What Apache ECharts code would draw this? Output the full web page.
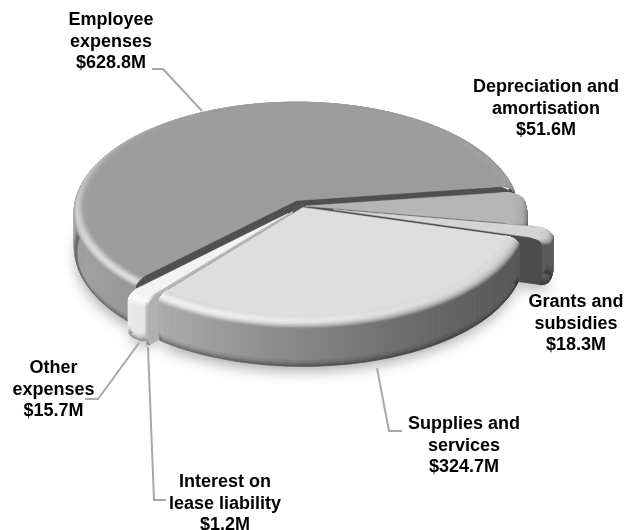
<!DOCTYPE html>
<html>
<head>
<meta charset="utf-8">
<style>html,body{margin:0;padding:0;background:#fff}#chart{width:629px;height:530px}</style>
<script src="https://cdn.jsdelivr.net/npm/echarts@6/dist/echarts.min.js"></script>
</head>
<body>
<div id="chart"></div>
<script>
// Expense breakdown, clockwise from the first slice ($ million)
const categories = ['Employee expenses', 'Depreciation and amortisation', 'Grants and subsidies',
  'Supplies and services', 'Interest on lease liability', 'Other expenses'];
const values = [628.8, 51.6, 18.3, 324.7, 1.2, 15.7];
const valueLabels = ['$628.8M', '$51.6M', '$18.3M', '$324.7M', '$1.2M', '$15.7M'];
const labelLines = [['Employee', 'expenses'], ['Depreciation and', 'amortisation'], ['Grants and', 'subsidies'],
  ['Supplies and', 'services'], ['Interest on', 'lease liability'], ['Other', 'expenses']];

// Projection of the tilted disc
const CX = 302, CY = 206, R = 222, TILT = 0.486, PERSP = 0.06, HEIGHT = 46;
const BEVEL = 0.055, BEVEL_DROP = 6, START_ANGLE = 134.4;

// Greys: top face, outer wall, cut wall; explode distance; corner rounding; rim gloss
const sliceLook = [
  { top: 156, wall: 190, cut: 80, explode: 12.5, round: 2, gloss: 0.7 },
  { top: 182, wall: 215, cut: 80, explode: 3, round: 11, gloss: 0.9 },
  { top: 212, wall: 235, cut: 76, explode: 32, round: 8, gloss: 0.9 },
  { top: 222, wall: 226, cut: 90, explode: 3, round: 3, gloss: 0.95 },
  { top: 190, wall: 245, cut: 176, explode: 15, round: 0, gloss: 0.9 },
  { top: 243, wall: 300, cut: 178, explode: 21, round: 6, gloss: 0.9, depth: 42 }
];
const paintOrder = [0, 1, 2, 5, 4, 3];

// Callouts: text anchor and leader path for each slice
const LINE_STEP = 21.7;
const calloutLayout = [
  { x: 111, y: 20, line: [[152, 69], [163, 69], [202, 111]] },
  { x: 546, y: 87, line: null },
  { x: 576, y: 302, line: null },
  { x: 464, y: 424, line: [[377, 368], [389, 431], [402, 431]] },
  { x: 225, y: 482, line: [[148, 347], [154, 500], [166, 500]] },
  { x: 53.5, y: 368, line: [[139, 343], [98, 399], [85, 399]] }
];

const total = values.reduce((a, b) => a + b, 0);
const rad = d => d * Math.PI / 180;
const norm = t => ((t % 360) + 360) % 360;
const grey = g => { const v = Math.max(0, Math.min(255, Math.round(g))); return `rgb(${v},${v},${v})`; };
const smooth = (a, b, x) => { const t = Math.max(0, Math.min(1, (x - a) / (b - a))); return t * t * (3 - 2 * t); };

// Wall lighting: bright towards the front left, falling off to the right
function wallShade(theta) {
  const c = (1 + Math.cos(rad(theta - 170))) / 2;
  return 0.38 + 0.47 * Math.pow(c, 1.5);
}
function highlight(theta) {
  const c = (1 + Math.cos(rad(theta - 130))) / 2;
  return c * c;
}

function buildSlice(index, a1, a2) {
  const look = sliceLook[index];
  const depth = look.depth || HEIGHT;
  const mid = rad((a1 + a2) / 2);
  const ox = CX + look.explode * Math.cos(mid);
  const oy = CY + look.explode * Math.sin(mid) * TILT;
  const arcPx = rad(a2 - a1) * R;
  const rho = Math.min(look.round, arcPx / 2);

  const radiusAt = th => {
    const d = Math.min(th - a1, a2 - th) * Math.PI / 180 * R;
    if (d >= rho || rho === 0) return R;
    return R - rho + Math.sqrt(Math.max(0, rho * rho - (rho - d) * (rho - d)));
  };
  const project = (th, scale, z) => {
    const r = radiusAt(th) * scale;
    const X = r * Math.cos(rad(th)), Y = r * Math.sin(rad(th));
    const s = 1 / (1 - PERSP * Y / R);
    return [ox + X * s, oy + Y * TILT * s + z];
  };
  const apex = z => [ox, oy + z];

  // Sample angles, finer near the rounded corners
  const step = (a2 - a1) > 30 ? 2 : 0.7;
  const angles = [];
  for (let t = a1; t < a2; t += step) angles.push(t);
  angles.push(a2);
  if (rho > 0) {
    const dA = rho / R * 180 / Math.PI;
    [0.04, 0.12, 0.25, 0.45, 0.7].forEach(f => { angles.push(a1 + dA * f); angles.push(a2 - dA * f); });
  }
  angles.sort((a, b) => a - b);

  const out = [];
  const strip = (th1, th2, s1, z1, s2, z2, color) => out.push({
    type: 'polygon', silent: true,
    shape: { points: [project(th1, s1, z1), project(th2, s1, z1), project(th2, s2, z2), project(th1, s2, z2)] },
    style: { fill: color, stroke: color, lineWidth: 0.6 }
  });

  // Cut faces
  const cut = th => ({
    type: 'polygon', silent: true,
    shape: { points: [apex(0), project(th, 1 - BEVEL, 0), project(th, 1, BEVEL_DROP), project(th, 1, depth), apex(depth)] },
    style: { fill: grey(look.cut), stroke: grey(look.cut), lineWidth: 0.5 }
  });
  out.push(cut(a1), cut(a2));

  // Outer wall: contiguous visible arcs, one shared horizontal gradient per band
  const runs = [];
  let run = [];
  angles.forEach(t => {
    const n = norm(t);
    if (n > 195 && n < 345) {
      if (run.length > 1) runs.push(run);
      run = [];
    } else {
      run.push(t);
    }
  });
  if (run.length > 1) runs.push(run);
  runs.forEach(arc => {
    const xs = arc.map(t => project(t, 1, 0)[0]);
    const xMin = Math.min(...xs), xMax = Math.max(...xs);
    const bands = [
      [1, BEVEL_DROP, 1, depth - 8, 1],
      [1, depth - 8, 0.998, depth - 5, 0.92],
      [0.998, depth - 5, 0.994, depth - 2.5, 0.8],
      [0.994, depth - 2.5, 0.986, depth, 0.66]
    ];
    bands.forEach(([s1, z1, s2, z2, dim]) => {
      const stops = arc.map((t, i) => ({
        offset: xMax > xMin ? (xs[i] - xMin) / (xMax - xMin) : 0,
        color: grey(look.wall * wallShade(norm(t)) * dim)
      })).sort((p, q) => p.offset - q.offset);
      const fill = new echarts.graphic.LinearGradient(xMin, 0, xMax, 0, stops, true);
      for (let i = 0; i < arc.length - 1; i++) {
        out.push({
          type: 'polygon', silent: true,
          shape: { points: [project(arc[i], s1, z1), project(arc[i + 1], s1, z1), project(arc[i + 1], s2, z2), project(arc[i], s2, z2)] },
          style: { fill, stroke: fill, lineWidth: 0.6 }
        });
      }
    });
  });

  // Bevel rings between wall and flat top
  const rings = 8;
  const ringAt = k => {
    const al = (k / rings) * Math.PI / 2;
    return { al, s: 1 - BEVEL * (1 - Math.sin(al)), z: BEVEL_DROP * (1 - Math.cos(al)) };
  };
  for (let k = rings; k > 0; k--) {
    const a = ringAt(k), b = ringAt(k - 1), m = (a.al + b.al) / 2;
    for (let i = 0; i < angles.length - 1; i++) {
      const t1 = angles[i], t2 = angles[i + 1], n = norm((t1 + t2) / 2);
      const front = smooth(-0.3, 0.1, Math.sin(rad(n)));
      const mixW = Math.pow(m / (Math.PI / 2), 2.2) * front;
      const wallGrey = Math.min(255, look.wall * wallShade(n));
      const base = look.top * (1 - mixW) + wallGrey * mixW;
      const gain = (255 - look.top) * look.gloss * highlight(n) * Math.pow(Math.sin(2 * m), 2);
      strip(t1, t2, a.s, a.z, b.s, b.z, grey(base + gain));
    }
  }

  // Flat top face
  const topPts = [apex(0)];
  angles.forEach(t => topPts.push(project(t, 1 - BEVEL, 0)));
  out.push({ type: 'polygon', silent: true, shape: { points: topPts },
    style: { fill: grey(look.top), stroke: grey(look.top), lineWidth: 0.5 } });

  // Soft ground shadow from the footprint
  const foot = [apex(depth)];
  angles.forEach(t => foot.push(project(t, 0.986, depth)));
  const shadow = { type: 'polygon', silent: true, shape: { points: foot },
    style: { fill: '#999', shadowBlur: 14, shadowColor: 'rgba(0,0,0,0.32)', shadowOffsetX: -1, shadowOffsetY: 5 } };
  return { shadow, parts: out };
}

// Slice extents from the values
const extents = [];
let cursor = START_ANGLE;
values.forEach(v => { const span = v / total * 360; extents.push([cursor, cursor + span]); cursor += span; });

const chart = echarts.init(document.getElementById('chart'), null, { renderer: 'canvas' });

const graphicItems = [];
categories.forEach((name, i) => {
  const place = calloutLayout[i];
  if (place.line) {
    graphicItems.push({ type: 'polyline', silent: true, z: 20, shape: { points: place.line },
      style: { stroke: '#a8a8a8', lineWidth: 2, fill: null } });
  }
  labelLines[i].concat(valueLabels[i]).forEach((txt, row) => {
    graphicItems.push({ type: 'text', silent: true, z: 21, x: place.x, y: place.y + row * LINE_STEP,
      style: { text: txt, fill: '#000', font: 'bold 18px "Liberation Sans", Arial, sans-serif', align: 'center', verticalAlign: 'middle' } });
  });
});

chart.setOption({
  animation: false,
  backgroundColor: '#fff',
  graphic: graphicItems,
  series: [{
    type: 'custom',
    coordinateSystem: 'none',
    silent: true,
    data: [values],
    renderItem: () => {
      const built = {};
      paintOrder.forEach(i => { built[i] = buildSlice(i, extents[i][0], extents[i][1]); });
      const children = [];
      paintOrder.forEach(i => children.push(built[i].shadow));
      paintOrder.forEach(i => built[i].parts.forEach(p => children.push(p)));
      return { type: 'group', children };
    }
  }]
});
</script>
</body>
</html>
